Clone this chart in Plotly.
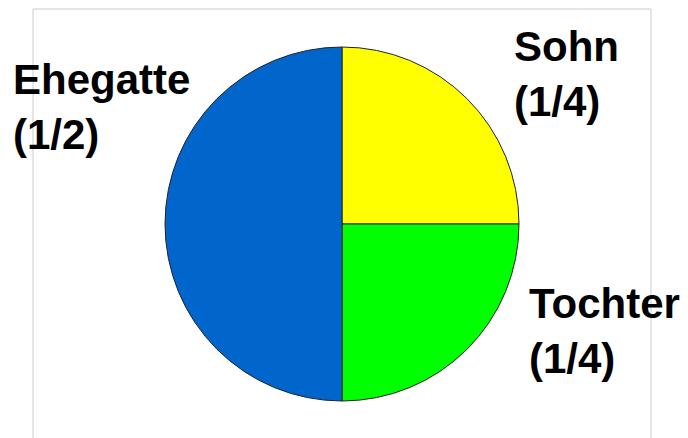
import plotly.graph_objects as go

W, H = 688, 438
OFF = 8  # page body margin offset

# ---- data ----
heirs = ["Sohn", "Tochter", "Ehegatte"]
shares = ["1/4", "1/4", "1/2"]
share_values = [1, 1, 2]
slice_colors = ["#FFFF00", "#00FF00", "#0066CC"]

# label anchor positions in pixels (left, top)
label_pos = {"Sohn": (512, 21), "Tochter": (527, 278), "Ehegatte": (11, 54)}

def px(x):
    return (x - OFF) / W

def py(y):
    return 1 - (y - OFF) / H

fig = go.Figure()
fig.add_trace(go.Pie(
    labels=heirs,
    values=share_values,
    sort=False,
    direction="clockwise",
    rotation=0,
    marker=dict(colors=slice_colors, line=dict(color="#222222", width=1)),
    textinfo="none",
    hoverinfo="label+percent",
    showlegend=False,
    domain=dict(x=[px(165), px(519)], y=[py(401), py(47)]),
))

for name, frac in zip(heirs, shares):
    x, y = label_pos[name]
    fig.add_annotation(
        x=px(x), y=py(y), xref="paper", yref="paper",
        xanchor="left", yanchor="top", align="left",
        text=f"<b>{name}</b><br><b>({frac})</b>",
        showarrow=False,
        font=dict(family="Liberation Sans, Arial, sans-serif", size=42, color="#000000"),
    )

fig.add_shape(type="rect", xref="paper", yref="paper",
              x0=px(33), x1=px(651), y0=-0.1, y1=py(9),
              line=dict(color="#cccccc", width=1), layer="below")

fig.update_layout(
    width=W, height=H,
    margin=dict(l=0, r=0, t=0, b=0),
    paper_bgcolor="white", plot_bgcolor="white",
)

fig.write_html("out.html")
